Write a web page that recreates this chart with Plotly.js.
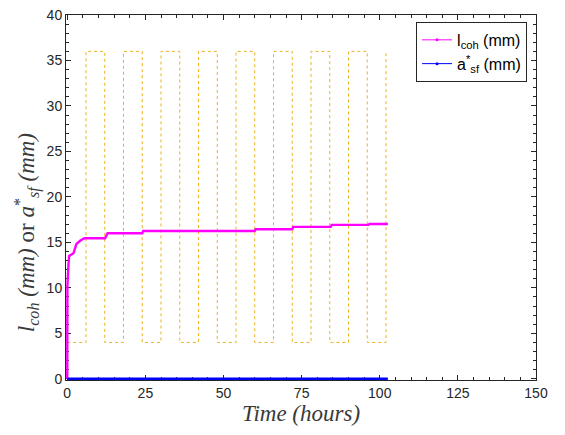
<!DOCTYPE html>
<html>
<head>
<meta charset="utf-8">
<script src="https://cdn.plot.ly/plotly-3.0.1.min.js"></script>
<style>html,body{margin:0;padding:0;background:#fff;}#chart{width:565px;height:435px;}</style>
</head>
<body>
<div id="chart"></div>
<script>
// l_coh (mm) vs time (hours)
const lcohTime = [0, 0.05, 0.4, 0.6, 2.0, 2.9, 4.2, 5.5, 12.1, 12.9, 24.0, 24.3, 60.0, 60.3, 72.0, 72.3, 84.3, 84.6, 96.4, 96.7, 102.6];
const lcohVal  = [0, 10.2, 12.6, 13.5, 13.8, 14.8, 15.2, 15.45, 15.45, 16.0, 16.0, 16.25, 16.25, 16.45, 16.45, 16.7, 16.7, 16.92, 16.92, 17.02, 17.02];
// a*_sf (mm)
const asfTime = [0, 102.6];
const asfVal  = [0, 0];
// dotted square wave
const waveTime = [0, 6, 12, 18, 24, 30, 36, 42, 48, 54, 60, 66, 72, 78, 84, 90, 96, 102];
const waveVal  = [4, 36, 4, 36, 4, 36, 4, 36, 4, 36, 4, 36, 4, 36, 4, 36, 4, 36];
// legend labels and axis titles
const legendNames = ['l<sub>coh</sub> (mm)', 'a<sup>*</sup><sub>sf</sub> (mm)'];
const seriesColors = ['#FF00FF', '#0000FF'];
const xTitle = '<i>Time (hours)</i>';
const yTitle = '<i>l</i><sub><i>coh</i></sub> <i>(mm)</i> or <i>a</i><sup>*</sup><sub><i>sf</i></sub> <i>(mm)</i>';

const traces = [
  {x: waveTime, y: waveVal, mode: 'lines', line: {shape: 'hv', color: '#EDB120', width: 1, dash: 'dot'}, showlegend: false, hoverinfo: 'skip'},
  {x: lcohTime, y: lcohVal, mode: 'lines', line: {color: seriesColors[0], width: 2.4}, showlegend: false},
  {x: asfTime, y: asfVal, mode: 'lines', line: {color: seriesColors[1], width: 2.4}, showlegend: false},
  // legend entries (thin line with a dot, as in the reference)
  {x: [null], y: [null], mode: 'lines+markers', name: legendNames[0], line: {color: seriesColors[0], width: 1}, marker: {color: seriesColors[0], size: 3}},
  {x: [null], y: [null], mode: 'lines+markers', name: legendNames[1], line: {color: seriesColors[1], width: 1}, marker: {color: seriesColors[1], size: 3}}
];

const axisCommon = {
  showgrid: false, zeroline: false, showline: true, mirror: 'ticks', layer: 'below traces',
  linecolor: '#262626', linewidth: 1, ticks: 'inside', ticklen: 5, tickcolor: '#262626',
  tickfont: {family: 'Liberation Sans, Arial, sans-serif', size: 14, color: '#262626'}
};

const titleFont = {family: 'Liberation Serif, DejaVu Serif, serif', size: 23, color: '#3a3a3a'};

const layout = {
  width: 565, height: 435,
  margin: {l: 66, r: 29, t: 15, b: 55},
  paper_bgcolor: '#fff', plot_bgcolor: '#fff',
  xaxis: Object.assign({}, axisCommon, {
    range: [-0.4, 150], tickvals: [0, 25, 50, 75, 100, 125, 150],
    minor: {dtick: 5, ticks: 'inside', ticklen: 3, tickcolor: '#262626'},
    title: {text: xTitle, font: titleFont, standoff: 2}
  }),
  yaxis: Object.assign({}, axisCommon, {
    range: [-0.13, 40], dtick: 5,
    minor: {dtick: 1, ticks: 'inside', ticklen: 3, tickcolor: '#262626'}
  }),
  annotations: [{
    text: yTitle, textangle: -90, xref: 'paper', yref: 'paper',
    x: -0.083, y: 0.405, xanchor: 'center', yanchor: 'middle', showarrow: false,
    font: titleFont
  }],
  legend: {
    x: 0.981, xanchor: 'right', y: 0.981, yanchor: 'top',
    bgcolor: '#fff', bordercolor: '#262626', borderwidth: 1,
    font: {family: 'Liberation Sans, Arial, sans-serif', size: 16, color: '#000'},
    itemwidth: 30
  },
  showlegend: true
};

Plotly.newPlot('chart', traces, layout, {displayModeBar: false, staticPlot: true});
</script>
</body>
</html>
